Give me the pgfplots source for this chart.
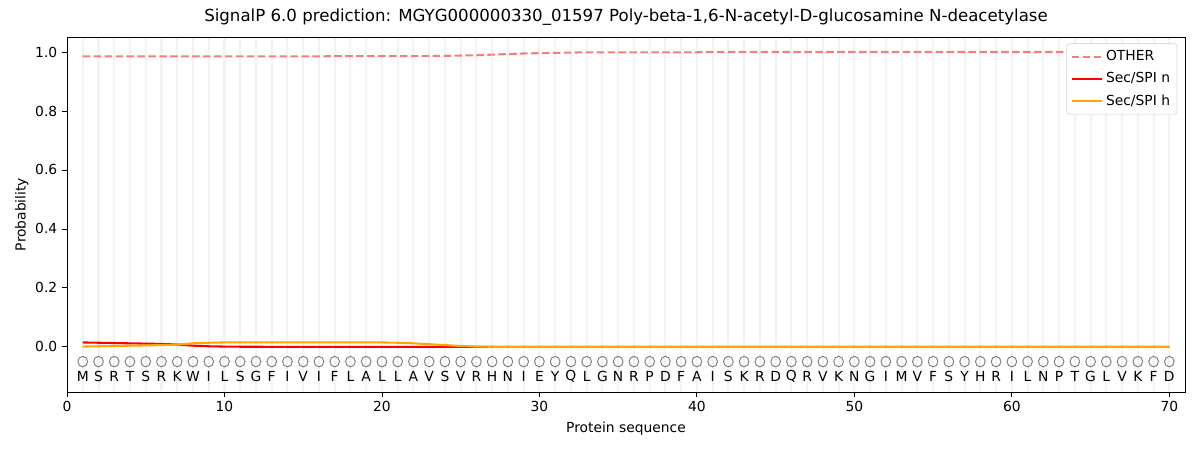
\documentclass[border=0pt]{standalone}
\usepackage{fontspec}
\setmainfont{DejaVu Sans}
\usepackage{pgfplots}
\usepackage{pgfplotstable}
\pgfplotsset{compat=1.18}
\definecolor{lcoral}{HTML}{F08080}
\definecolor{orng}{HTML}{FFA500}
\definecolor{gridc}{HTML}{F3F3F3}

\pgfplotstableread{
x other n h
1 0.985 0.015 0.001
2 0.985 0.014 0.002
3 0.985 0.013 0.003
4 0.985 0.012 0.004
5 0.985 0.011 0.005
6 0.985 0.010 0.006
7 0.985 0.008 0.008
8 0.985 0.004 0.012
9 0.985 0.002 0.014
10 0.985 0.001 0.015
11 0.985 0.0005 0.015
12 0.985 0.0003 0.015
13 0.985 0.0002 0.015
14 0.985 0.0002 0.015
15 0.985 0.0001 0.015
16 0.985 0.0001 0.015
17 0.986 0.0001 0.015
18 0.986 0.0001 0.015
19 0.986 0.0001 0.015
20 0.986 0.0001 0.015
21 0.986 0.0001 0.014
22 0.986 0 0.012
23 0.987 0 0.009
24 0.987 0 0.006
25 0.988 0 0.003
26 0.989 0 0.001
27 0.991 0 0.0003
28 0.993 0 0.0001
29 0.995 0 0
30 0.996 0 0
31 0.997 0 0
32 0.998 0 0
33 0.999 0 0
34 0.999 0 0
35 0.999 0 0
36 0.999 0 0
37 0.999 0 0
38 0.999 0 0
39 0.999 0 0
40 0.999 0 0
41 1.0 0 0
42 1.0 0 0
43 1.0 0 0
44 1.0 0 0
45 1.0 0 0
46 1.0 0 0
47 1.0 0 0
48 1.0 0 0
49 1.0 0 0
50 1.0 0 0
51 1.0 0 0
52 1.0 0 0
53 1.0 0 0
54 1.0 0 0
55 1.0 0 0
56 1.0 0 0
57 1.0 0 0
58 1.0 0 0
59 1.0 0 0
60 1.0 0 0
61 1.0 0 0
62 1.0 0 0
63 1.0 0 0
64 1.0 0 0
65 1.0 0 0
66 1.0 0 0
67 1.0 0 0
68 1.0 0 0
69 1.0 0 0
70 1.0 0 0
}\probs

\pgfplotstableread{
x y label
1 -0.1 M
2 -0.1 S
3 -0.1 R
4 -0.1 T
5 -0.1 S
6 -0.1 R
7 -0.1 K
8 -0.1 W
9 -0.1 I
10 -0.1 L
11 -0.1 S
12 -0.1 G
13 -0.1 F
14 -0.1 I
15 -0.1 V
16 -0.1 I
17 -0.1 F
18 -0.1 L
19 -0.1 A
20 -0.1 L
21 -0.1 L
22 -0.1 A
23 -0.1 V
24 -0.1 S
25 -0.1 V
26 -0.1 R
27 -0.1 H
28 -0.1 N
29 -0.1 I
30 -0.1 E
31 -0.1 Y
32 -0.1 Q
33 -0.1 L
34 -0.1 G
35 -0.1 N
36 -0.1 R
37 -0.1 P
38 -0.1 D
39 -0.1 F
40 -0.1 A
41 -0.1 I
42 -0.1 S
43 -0.1 K
44 -0.1 R
45 -0.1 D
46 -0.1 Q
47 -0.1 R
48 -0.1 V
49 -0.1 K
50 -0.1 N
51 -0.1 G
52 -0.1 I
53 -0.1 M
54 -0.1 V
55 -0.1 F
56 -0.1 S
57 -0.1 Y
58 -0.1 H
59 -0.1 R
60 -0.1 I
61 -0.1 L
62 -0.1 N
63 -0.1 P
64 -0.1 T
65 -0.1 G
66 -0.1 L
67 -0.1 V
68 -0.1 K
69 -0.1 F
70 -0.1 D
}\seq

\begin{document}
\begin{tikzpicture}
\path[use as bounding box] (0,0) rectangle (867pt,325pt);
\begin{axis}[
  at={(48.4pt,41.8pt)}, anchor=south west,
  scale only axis, width=807.8pt, height=256.5pt,
  xmin=0, xmax=71, ymin=-0.153, ymax=1.051,
  axis on top,
  xtick={0,10,...,70},
  ytick={0,0.2,...,1.0},
  yticklabel style={/pgf/number format/.cd, fixed, fixed zerofill, precision=1},
  /pgf/number format/assume math mode=true,
  tick align=outside, major tick length=3.5pt,
  tick style={black, line width=0.6pt},
  axis line style={line width=0.6pt},
  xtick pos=bottom, ytick pos=left,
  font=\fontsize{10}{12}\selectfont,
  tick label style={font=\fontsize{10}{12}\selectfont},
  title={SignalP 6.0 prediction: MGYG000000330\_01597 Poly-beta-1,6-N-acetyl-D-glucosamine N-deacetylase},
  title style={font=\fontsize{12}{14}\selectfont, yshift=-1pt},
  xlabel={Protein sequence}, ylabel={Probability},
  xlabel style={yshift=0pt}, ylabel style={yshift=-2pt},
  legend pos=north east,
  legend cell align=left,
  legend style={draw=gray!35, rounded corners=2pt, font=\fontsize{10}{12}\selectfont, inner xsep=3pt, inner ysep=3pt, row sep=3pt, at={(0.993,0.982)}},
  legend image code/.code={\draw[#1] (0pt,0pt) -- (22pt,0pt);},
]
\pgfplotsinvokeforeach{1,...,70}{\draw[gridc, line width=1.5pt] (axis cs:#1,-0.15) -- (axis cs:#1,1.048);}
\addplot[lcoral, line width=1.5pt, dash pattern=on 5.5pt off 2.4pt] table[x=x, y=other] {\probs};
\addlegendentry{OTHER}
\addplot[red, line width=1.5pt] table[x=x, y=n] {\probs};
\addlegendentry{Sec/SPI n}
\addplot[orng, line width=1.5pt] table[x=x, y=h] {\probs};
\addlegendentry{Sec/SPI h}
\addplot[only marks, mark=o, mark size=3.5pt, color=black!50, mark options={line width=0.7pt, yscale=1.08}, forget plot] table[x=x, y expr=-0.05] {\seq};
\addplot[draw=none, mark=none, forget plot, nodes near coords, point meta=explicit symbolic,
  every node near coord/.style={anchor=center, font=\fontsize{10}{12}\selectfont, black}]
  table[x=x, y=y, meta=label] {\seq};
\end{axis}
\end{tikzpicture}
\end{document}
